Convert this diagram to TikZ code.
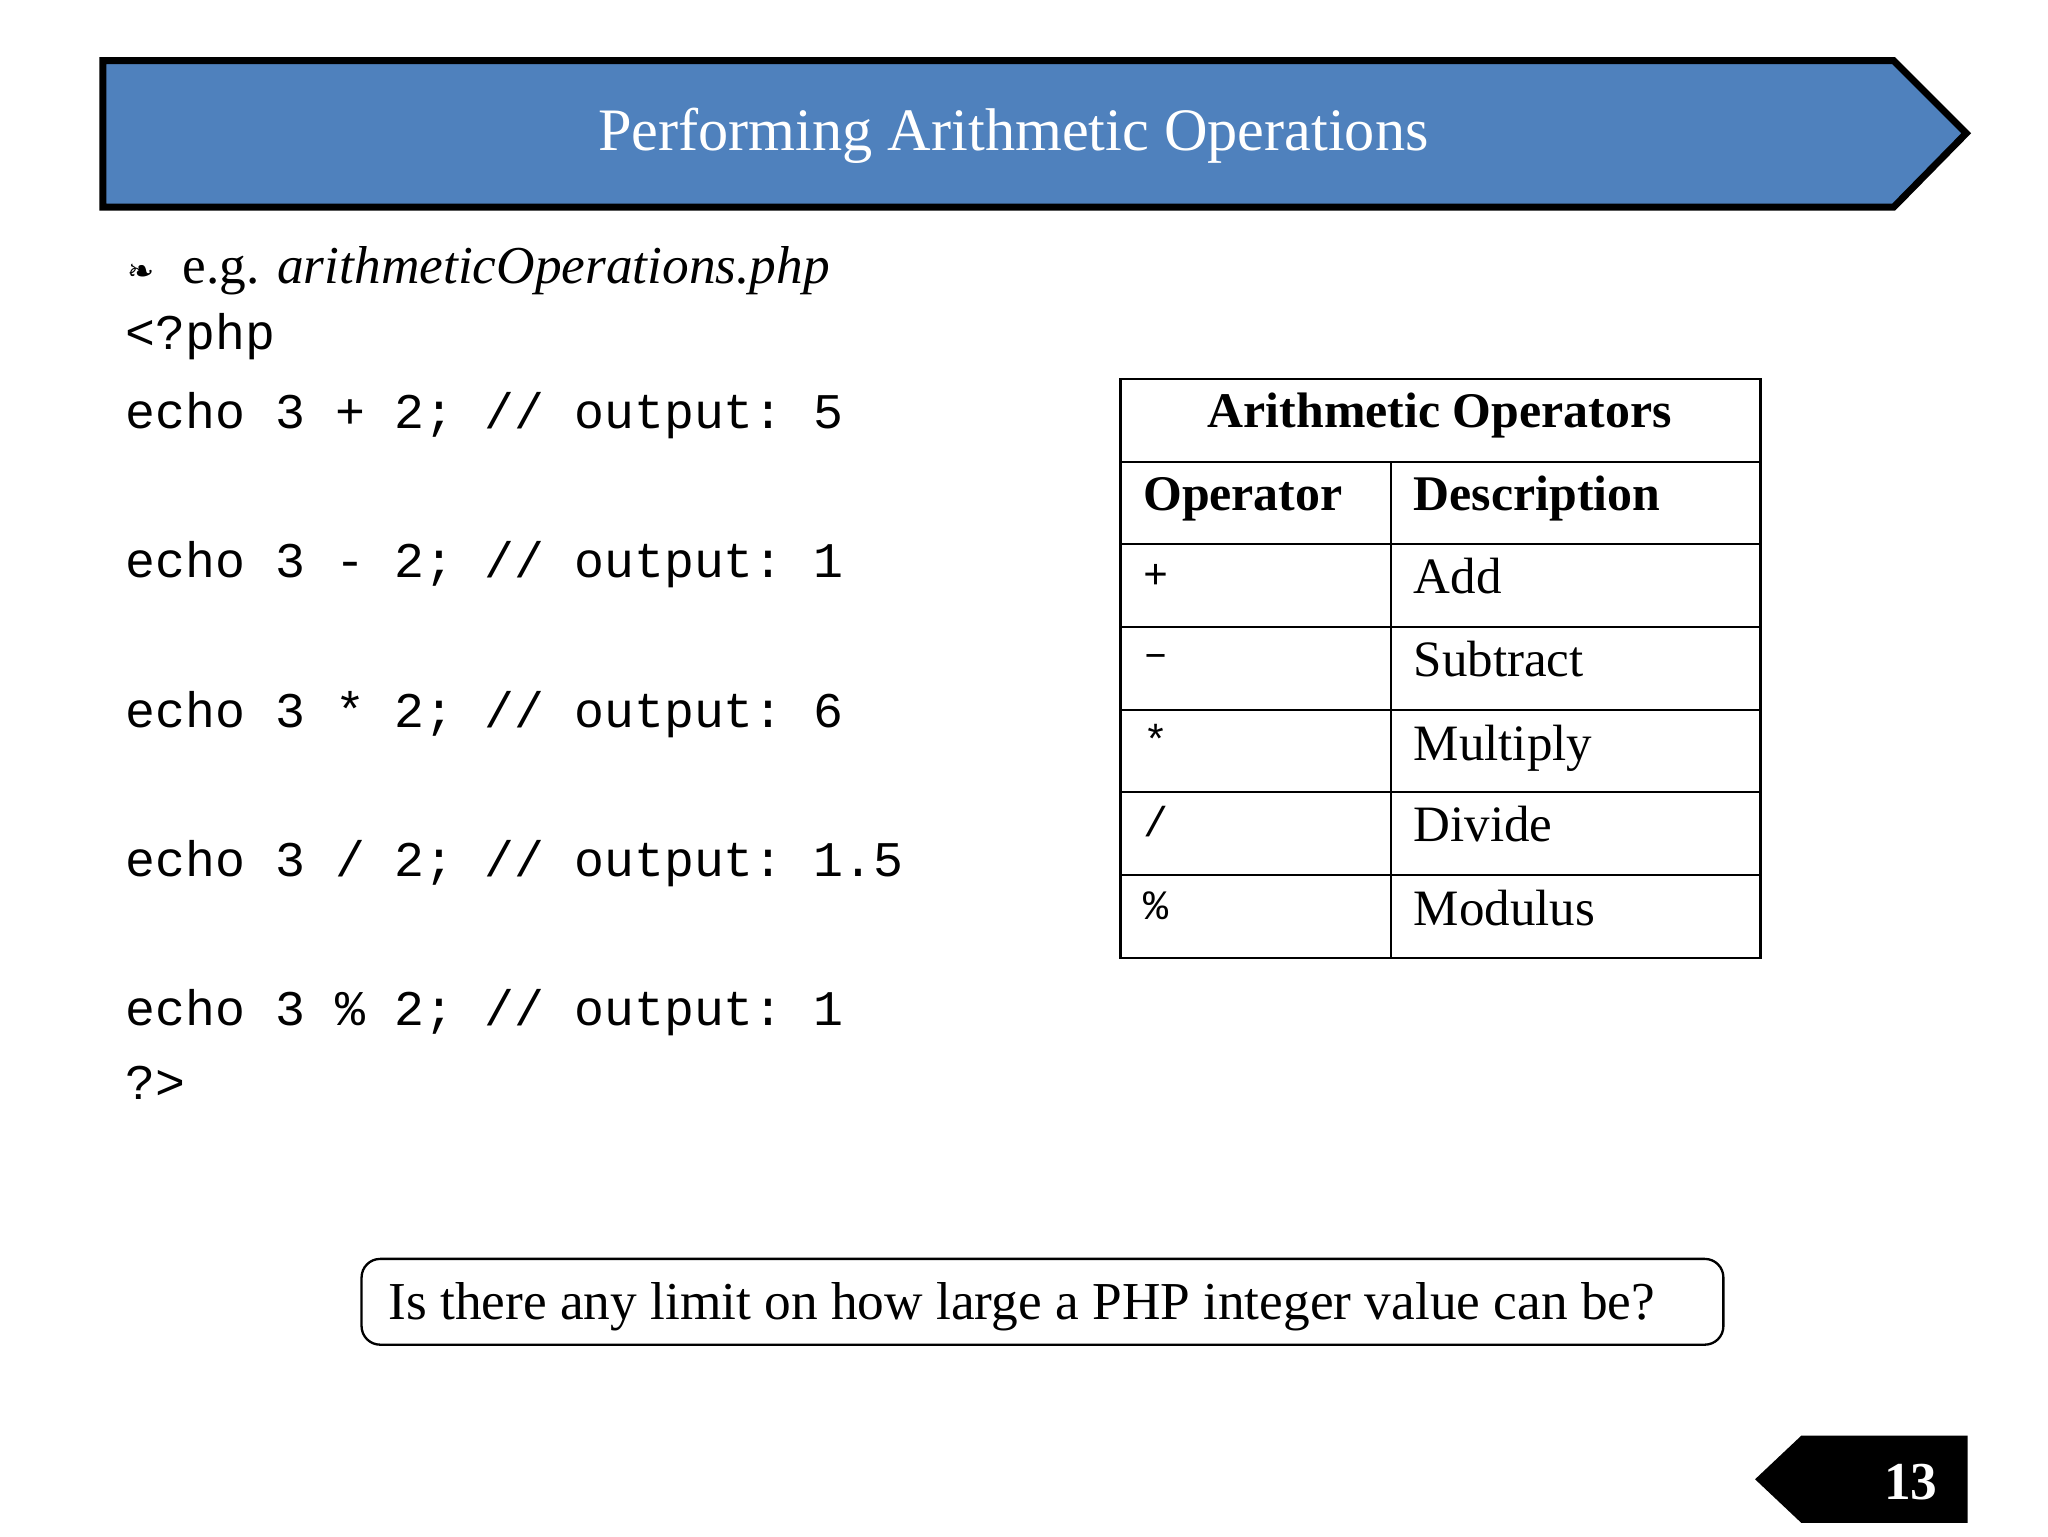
\documentclass[tikz,border=0pt]{standalone}
\usepackage{fontspec}
\setmainfont{Liberation Serif}
\setmonofont{Liberation Mono}
\newfontfamily\symfont{DejaVu Sans}
\begin{document}
\begin{tikzpicture}[x=0.02cm,y=-0.02cm,
  code/.style={anchor=base west,inner sep=0,font=\ttfamily\fontsize{21.5}{24}\selectfont},
  cell/.style={anchor=base west,inner sep=0,font=\fontsize{22}{26}\selectfont},
  hcell/.style={cell,font=\bfseries\fontsize{21.5}{26}\selectfont},
  opcell/.style={code,font=\ttfamily\fontsize{18}{22}\selectfont}]
\useasboundingbox (0,0) rectangle (1552,1164);
\fill[white] (0,0) rectangle (1552,1164);
\draw[line width=3pt,fill={rgb,255:red,79;green,129;blue,189}] (78,46) -- (1435,46) -- (1490,101) -- (1435,157) -- (78,157) -- cycle;
\node[anchor=center,text=white,font=\fontsize{26}{30}\selectfont] (title) at (768,103) {Performing Arithmetic Operations};
\node[anchor=center,font=\symfont\fontsize{14}{16}\selectfont] (bul) at (107,207) {❧};
\node[cell,font=\fontsize{23}{26}\selectfont] (eg) at (138,215) {e.g. \textit{arithmeticOperations.php}};
\node[code] (l0) at (95,265) {<?php};
\node[code] (l1) at (95,325) {echo 3 + 2; // output: 5};
\node[code] (l2) at (95,438) {echo 3 - 2; // output: 1};
\node[code] (l3) at (95,551) {echo 3 * 2; // output: 6};
\node[code] (l4) at (95,664) {echo 3 / 2; // output: 1.5};
\node[code] (l5) at (95,777) {echo 3 \% 2; // output: 1};
\node[code] (l6) at (95,833) {?>};
% table
\draw[line width=1pt] (849,287) rectangle (1334,726);
\foreach \y in {350,412,475,538,600,663} \draw[line width=1pt] (849,\y) -- (1334,\y);
\draw[line width=1pt] (1054,350) -- (1054,726);
\node[anchor=base,inner sep=0,font=\bfseries\fontsize{21.5}{26}\selectfont] (th) at (1091,324) {Arithmetic Operators};
\node[hcell] (h1) at (866,387) {Operator};
\node[hcell] (h2) at (1071,387) {Description};
\node[opcell] (o1) at (866,446) {+};
\node[cell] (d1) at (1071,450) {Add};
\node[opcell] (o2) at (866,505) {–};
\node[cell] (d2) at (1071,513) {Subtract};
\node[opcell] (o3) at (866,572) {*};
\node[cell] (d3) at (1071,576) {Multiply};
\node[opcell] (o4) at (866,634) {/};
\node[cell] (d4) at (1071,638) {Divide};
\node[opcell] (o5) at (866,697) {\%};
\node[cell] (d5) at (1071,701) {Modulus};
% question box
\draw[line width=1pt,rounded corners=8] (274,954) rectangle (1306,1019);
\node[cell,font=\fontsize{23}{26}\selectfont] (q) at (294,1000) {Is there any limit on how large a PHP integer value can be?};
% page number
\fill (1330,1121) -- (1365,1088) -- (1491,1088) -- (1491,1154) -- (1365,1154) -- cycle;
\node[anchor=center,text=white,font=\bfseries\fontsize{23}{26}\selectfont] (pg) at (1448,1123) {13};
\end{tikzpicture}
\end{document}
